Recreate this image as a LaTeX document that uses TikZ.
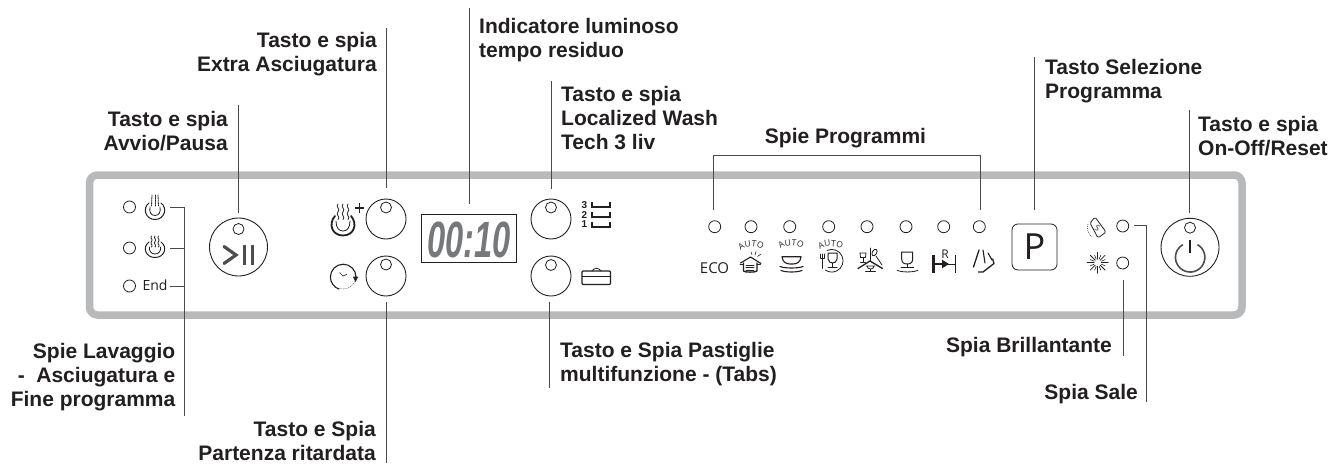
\documentclass[tikz,border=0pt]{standalone}
\usepackage{fontspec}
\setmainfont{Liberation Sans}
\newfontfamily\panelfont{Open Sans}
\usetikzlibrary{decorations.text,arrows.meta}
\definecolor{ink}{HTML}{231F20}
\definecolor{panelgrey}{HTML}{B8B9BB}
\definecolor{leadgrey}{HTML}{4A4A4C}
\definecolor{lcdgrey}{HTML}{77787B}
\definecolor{powergrey}{HTML}{4D4D4F}
\tikzset{
  lab/.style={font=\fontsize{21}{24}\selectfont\bfseries,text=ink,inner sep=0pt},
  labr/.style={lab,anchor=base east,align=right},
  labl/.style={lab,anchor=base west,align=left},
  leader/.style={draw=leadgrey,line width=1pt},
  led/.style={circle,draw=ink,line width=.8pt,minimum size=12pt,inner sep=0pt},
  smallled/.style={circle,draw=ink,line width=.8pt,minimum size=11pt,inner sep=0pt},
  knob/.style={circle,draw=ink,line width=.9pt,minimum size=40pt,inner sep=0pt},
  bigknob/.style={circle,draw=ink,line width=.9pt,minimum size=58pt,inner sep=0pt},
  icon/.style={draw=ink,line width=.8pt,line cap=round,line join=round},
  iconb/.style={draw=ink,line width=1.3pt,line cap=round,line join=round},
  steam/.pic={\draw[icon] (0,0) .. controls (-2.5,2.5) and (2.5,4) .. (0,6.5) .. controls (-2.5,9) and (2.5,10.5) .. (0,13);},
  autotext/.style={decorate,decoration={text along path,text align=center,text={|\panelfont\fontsize{8.5}{8.5}\selectfont\color{ink}|AUTO}}},
}
\begin{document}
\begin{tikzpicture}[x=1pt,y=-1pt]
\useasboundingbox (0,0) rectangle (1330,463);
\fill[white] (0,0) rectangle (1330,463);
% panel
\draw[panelgrey,line width=7.5pt,rounded corners=8pt] (89.5,175) rectangle (1242,315);

% left LEDs
\node[led] (la) at (129.5,207) {};
\node[led] (lb) at (129.5,248) {};
\node[led] (lc) at (129.5,286) {};
\node[font=\panelfont\fontsize{14}{14}\selectfont,text=ink,inner sep=0pt] (endtxt) at (155,285.5) {End};
% icon wash
\draw[icon,line width=1pt] (149,203) .. controls (142,208) and (145.5,219.5) .. (155,219.5) .. controls (164.5,219.5) and (168,208) .. (161,203);
\draw[icon] (150,207) .. controls (149,212) and (151,215.5) .. (155,215.5) .. controls (159,215.5) and (161,212) .. (160,207);
\draw[icon,dash pattern=on 1.5pt off 1pt] (152,195) -- (151.5,206);
\draw[icon,dash pattern=on 1.5pt off 1pt] (155,195) -- (155,206);
\draw[icon,dash pattern=on 1.5pt off 1pt] (158,195) -- (158.5,206);
% icon dry
\draw[icon,line width=1pt] (149,242) .. controls (142,247) and (145.5,257.5) .. (155,257.5) .. controls (164.5,257.5) and (168,247) .. (161,242);
\draw[icon] (149.5,247) .. controls (149,251) and (151,254) .. (155,254) .. controls (159,254) and (161,251) .. (160.5,247);
\pic[scale=.85] at (151.5,236) {steam};
\pic[scale=.85] at (155,236) {steam};
\pic[scale=.85] at (158.5,236) {steam};
% leaders left
\coordinate (sa) at (170,207);
\coordinate (sb) at (170,248);
\coordinate (sc) at (170,286);
\coordinate (st) at (184,207);
\coordinate (sm) at (184,248);
\coordinate (sn) at (184,286);
\coordinate (se) at (184,416);
\draw[leader] (sa) -- (st) -- (se);
\draw[leader] (sb) -- (sm);
\draw[leader] (sc) -- (sn);

% start/pause
\node[bigknob] (start) at (238.5,247) {};
\node[smallled] (startled) at (238.5,229) {};
\draw[draw=powergrey,line width=3.2pt,line cap=round,line join=miter] (224,246.5) -- (236,255) -- (224,263.5);
\draw[draw=powergrey,line width=3.4pt] (244.5,245) -- (244.5,265);
\draw[draw=powergrey,line width=3.4pt] (252.5,245) -- (252.5,265);
\coordinate (avviotop) at (238,105);
\coordinate (avviobot) at (238,213);
\draw[leader] (avviotop) -- (avviobot);

% extra dry + delay
\node[knob] (extra) at (386,219) {};
\node[smallled] (extraled) at (386,207.5) {};
\node[knob] (delay) at (386,276) {};
\node[smallled] (delayled) at (386,264.5) {};
\draw[iconb,line width=1.8pt] (335,216) .. controls (328,224) and (332,235.5) .. (343,235.5) .. controls (354,235.5) and (358,224) .. (351,216);
\draw[icon] (336,221) .. controls (336,228) and (339,231) .. (343,231) .. controls (347,231) and (350,228) .. (350,221);
\pic[scale=1.2] at (338,204) {steam};
\pic[scale=1.2] at (343,204) {steam};
\pic[scale=1.2] at (348,204) {steam};
\draw[draw=ink,line width=1.1pt] (354.5,208) -- (364,208) (359.2,203.2) -- (359.2,212.8);
% clock
\draw[iconb,line width=1.1pt] (356,277) arc[start angle=0,end angle=-250,radius=12.8];
\draw[draw=ink,line width=.4pt,dash pattern=on 1pt off 1pt] (338.7,288.2) arc[start angle=110,end angle=10,radius=12.8];
\draw[icon,line width=.7pt] (339.5,272.5) -- (343,276) -- (346.5,274.5);
\fill[ink] (352.8,276.5) -- (358.3,276.5) -- (355.6,282) -- cycle;
\coordinate (extratop) at (386.5,28);
\coordinate (extrabot) at (386.5,188);
\draw[leader] (extratop) -- (extrabot);
\coordinate (delaytop) at (386,302);
\coordinate (delaybot) at (386,463);
\draw[leader] (delaytop) -- (delaybot);

% display
\node[draw=ink,line width=.8pt,minimum width=95pt,minimum height=48pt,inner sep=0pt] (disp) at (468.5,238) {};
\node[inner sep=0pt,anchor=base,text=lcdgrey,font=\fontsize{51}{51}\selectfont\bfseries\itshape] (lcd) at (469,257) {\scalebox{.64}[1]{00:10}};
\coordinate (disptop) at (469.7,8);
\coordinate (dispbot) at (469.7,203.5);
\draw[leader] (disptop) -- (dispbot);

% localized wash, tabs
\node[knob] (wash) at (551,219) {};
\node[smallled] (washled) at (551,207.5) {};
\node[knob] (tabs) at (551,276) {};
\node[smallled] (tabsled) at (551,265) {};
\foreach \n/\y/\t in {n3/205/3,n2/215/2,n1/224.5/1}
  \node[inner sep=0pt,text=ink,font=\fontsize{10}{10}\selectfont\bfseries] (\n) at (584.3,\y) {\t};
\foreach \y in {202,212,222}
  \draw[iconb,line cap=butt,line join=miter] (592,\y) -- (592,\y+5) -- (610,\y+5) -- (610,\y);
\draw[iconb,rounded corners=1pt,line width=1.1pt] (582,271) rectangle (610.5,284.5);
\draw[icon,line width=1pt] (582,276.5) -- (610.5,276.5);
\draw[icon] (592,271) .. controls (594,267.5) and (599,267.5) .. (601,271);
\coordinate (washtop) at (551.4,81);
\coordinate (washbot) at (551.4,189);
\draw[leader] (washtop) -- (washbot);
\coordinate (tabstop) at (549,302);
\coordinate (tabsbot) at (549,388);
\draw[leader] (tabstop) -- (tabsbot);

% programme LEDs
\foreach \n/\x in {pa/714.7,pb/751,pc/789.7,pd/828.7,pe/867,pf/906,pg/943.7,ph/979.3}
  \node[led] (\n) at (\x,226.7) {};
\coordinate (brl) at (713.7,210);
\coordinate (brtl) at (713.7,155);
\coordinate (brtr) at (980,155);
\coordinate (brr) at (980,210);
\draw[leader] (brl) -- (brtl) -- (brtr) -- (brr);
\node[inner sep=0pt,text=ink,font=\panelfont\fontsize{15}{15}\selectfont] (eco) at (714.5,268) {ECO};
% pot
\path[autotext] (740,252) .. controls (744,245.5) and (757,245) .. (763,251);
\draw[iconb,line width=1.1pt] (740.5,263) -- (750.5,257) -- (761,263.5);
\draw[iconb] (743.5,263) -- (743.5,271) .. controls (744,272.5) and (756,272.5) .. (757,271) -- (757,263);
\draw[icon] (740,264) -- (743.5,264) (757,264) -- (760.5,264);
\draw[icon,line width=.6pt] (746,265.5) -- (754,265.5) (746,267.7) -- (754,267.7) (746,269.9) -- (754,269.9);
\draw[icon,line width=.6pt] (755,255) -- (756,251.5) (757.5,256.5) -- (761,254) (752,254.5) -- (751,252);
% plates
\path[autotext] (779.5,250.5) .. controls (784,244) and (798,244) .. (803,250);
\draw[iconb,line width=1.1pt] (782,256.7) -- (801,256.7) .. controls (800.5,262) and (797,264) .. (793,264) -- (790,264) .. controls (786,264) and (782.5,262) .. (782,256.7);
\draw[iconb,line width=1.1pt] (780,266.5) .. controls (785,268.5) and (798,268.5) .. (803,266.5);
\draw[iconb,line width=1.1pt] (781,270.5) .. controls (786,272.5) and (797,272.5) .. (802,270.5);
% glass in circle
\path[autotext] (818,251.5) .. controls (822,245) and (838,244.5) .. (844,250.5);
\draw[icon] (827,250.5) arc[start angle=-115,end angle=125,radius=11.3];
\draw[iconb,line width=1pt] (828,253) -- (828,259) .. controls (828,262) and (831,263) .. (832.5,263) .. controls (834,263) and (837,262) .. (837,259) -- (837,253) -- cycle;
\draw[iconb,line width=1pt] (832.5,263) -- (832.5,267.5) (828,267.5) -- (837,267.5);
\draw[icon] (822.5,254) -- (822.5,268.5);
\draw[icon] (820.5,254) -- (820.5,258.5) -- (824.5,258.5) -- (824.5,254);
% fan icon
\draw[iconb] (858,268.5) -- (870,261) -- (882.5,268.5);
\draw[icon] (870,261) -- (870,248);
\draw[icon] (860,253) -- (866,253) -- (865.5,257.5) -- (860.5,257.5) -- cycle;
\draw[icon] (863,257.5) -- (863,262) (860.5,262) -- (865.5,262);
\draw[icon] (876,256) -- (882,265);
\draw[icon,rotate around={-30:(874.5,252.5)}] (874.5,252.5) ellipse[x radius=2.2,y radius=3.6];
\draw[icon] (866,266) -- (875,266) (867,266) .. controls (867,270) and (874,270) .. (874,266) (870.5,269) -- (870.5,271) (865.5,271.5) -- (875.5,271.5);
% glass
\draw[iconb,line width=1pt] (901.7,252) -- (901.7,259) .. controls (901.7,262.5) and (904,264) .. (907.2,264) .. controls (910.5,264) and (912.7,262.5) .. (912.7,259) -- (912.7,252) -- cycle;
\draw[iconb,line width=1pt] (907.2,264) -- (907.2,267) (901,267.5) -- (913.5,267.5);
\draw[icon] (897,270.2) .. controls (901,272.5) and (914,272.5) .. (918,270.2);
% R arrow
\draw[draw=ink,line width=2.6pt] (933.5,255) -- (933.5,272.5);
\draw[draw=ink,line width=2.6pt] (933.5,264) -- (944,264);
\draw[draw=ink,line width=1pt] (944,264) -- (955,264);
\draw[draw=ink,line width=1pt] (955,255) -- (955,272.5);
\fill[ink] (942,259.7) -- (949,264) -- (942,268.3) -- cycle;
\node[inner sep=0pt,text=ink,font=\panelfont\fontsize{12}{12}\selectfont] (rtxt) at (945,254.5) {R};
% shower
\draw[iconb] (979,250) -- (973.5,267);
\draw[iconb,line width=1.1pt] (983,250) -- (985,263);
\draw[iconb,line width=1.1pt] (988,253) -- (992,260);
\draw[iconb,line cap=butt] (978,272) -- (983,272) -- (994,263.5) -- (992.5,258.5);

% P button
\node[draw=ink,line width=.8pt,rounded corners=6pt,minimum width=45pt,minimum height=46pt,inner sep=0pt,text=ink,font=\panelfont\fontsize{36}{36}\selectfont] (pbtn) at (1034.5,247) {P};
\coordinate (ptop) at (1034,57);
\coordinate (pbot) at (1034,210);
\draw[leader] (ptop) -- (pbot);

% salt & rinse
\draw[icon,rounded corners=1.5pt] (1095,217) -- (1106,232) -- (1098,238) -- (1090,223) -- cycle;
\node[inner sep=0pt,rotate=-30,text=ink,font=\panelfont\fontsize{8}{8}\selectfont] (salts) at (1097.5,228) {S};
\draw[draw=ink,line width=.6pt,dash pattern=on .8pt off 1.2pt] (1088,224) .. controls (1086.5,229) and (1088,234) .. (1092,237);
\node[led] (salt) at (1122.7,226) {};
\node[led] (rinse) at (1122.7,263) {};
\foreach \a in {0,45,...,315}
  \draw[icon] ({1097.7+3.5*cos(\a)},{262.7+3.5*sin(\a)}) -- ({1097.7+10.5*cos(\a)},{262.7+10.5*sin(\a)});
\foreach \a in {22.5,67.5,...,337.5}
  \draw[icon,line width=.6pt] ({1097.7+4*cos(\a)},{262.7+4*sin(\a)}) -- ({1097.7+8*cos(\a)},{262.7+8*sin(\a)});
\coordinate (salta) at (1134,225);
\coordinate (saltb) at (1146.5,225);
\coordinate (saltc) at (1146.5,402);
\draw[leader] (salta) -- (saltb) -- (saltc);
\coordinate (rinsea) at (1123.7,280);
\coordinate (rinseb) at (1123.7,356);
\draw[leader] (rinsea) -- (rinseb);

% power
\node[bigknob] (power) at (1190,247.3) {};
\node[smallled] (powerled) at (1190,227.7) {};
\draw[draw=powergrey,line width=1.6pt] (1197.5,244.6) arc[start angle=-60,end angle=240,radius=14.7];
\draw[draw=ink,line width=1.1pt] (1190,240) -- (1190,253);
\coordinate (powertop) at (1189.5,110);
\coordinate (powerbot) at (1189.5,213);
\draw[leader] (powertop) -- (powerbot);

% labels (multi-line nodes are anchored on their last baseline)
\node[labr] (t1) at (377,71) {Tasto e spia\\Extra Asciugatura};
\node[labr] (t2) at (228,150) {Tasto e spia\\Avvio/Pausa};
\node[labl] (t3) at (479,57) {Indicatore luminoso\\tempo residuo};
\node[labl] (t4) at (561,149.5) {Tasto e spia\\Localized Wash\\Tech 3 liv};
\node[lab,anchor=base] (t5) at (845.5,143) {Spie Programmi};
\node[labl] (t6) at (1045,98) {Tasto Selezione\\Programma};
\node[labl] (t7) at (1198,155) {Tasto e spia\\On-Off/Reset};
\node[labr] (t8) at (175.5,406) {Spie Lavaggio\\-\ \ Asciugatura e\\Fine programma};
\node[labr] (t9) at (376,460) {Tasto e Spia\\Partenza ritardata};
\node[labl] (t10) at (560,381) {Tasto e Spia Pastiglie\\multifunzione - (Tabs)};
\node[labr] (t11) at (1112,352) {Spia Brillantante};
\node[labr] (t12) at (1138,399) {Spia Sale};
\end{tikzpicture}
\end{document}
